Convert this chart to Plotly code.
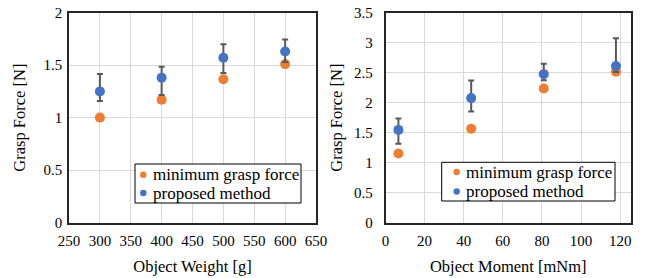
import plotly.graph_objects as go

# Series names
name_min = "minimum grasp force"
name_prop = "proposed method"

# Left chart data
weight = [300, 400, 500, 600]
min_force_w = [1.00, 1.17, 1.365, 1.51]
prop_force_w = [1.25, 1.38, 1.57, 1.63]
prop_err_plus_w = [0.165, 0.105, 0.13, 0.115]
prop_err_minus_w = [0.092, 0.165, 0.145, 0.10]

# Right chart data
moment = [6.6, 43.8, 80.9, 117.8]
min_force_m = [1.15, 1.565, 2.235, 2.515]
prop_force_m = [1.545, 2.075, 2.475, 2.61]
prop_err_plus_m = [0.19, 0.295, 0.175, 0.465]
prop_err_minus_m = [0.23, 0.225, 0.10, 0.10]

ORANGE = "#ED7D31"
BLUE = "#4472C4"
ERR = "#595959"
FONT = "Times New Roman, Liberation Serif, serif"
W, H = 654, 278

fig = go.Figure()

fig.add_trace(go.Scatter(x=weight, y=min_force_w, mode="markers", name=name_min,
                         marker=dict(color=ORANGE, size=10), xaxis="x", yaxis="y"))
fig.add_trace(go.Scatter(x=weight, y=prop_force_w, mode="markers", name=name_prop,
                         marker=dict(color=BLUE, size=10),
                         error_y=dict(type="data", symmetric=False, array=prop_err_plus_w,
                                      arrayminus=prop_err_minus_w, color=ERR, thickness=2, width=3),
                         xaxis="x", yaxis="y"))
fig.add_trace(go.Scatter(x=moment, y=min_force_m, mode="markers", name=name_min,
                         marker=dict(color=ORANGE, size=10), xaxis="x2", yaxis="y2"))
fig.add_trace(go.Scatter(x=moment, y=prop_force_m, mode="markers", name=name_prop,
                         marker=dict(color=BLUE, size=10),
                         error_y=dict(type="data", symmetric=False, array=prop_err_plus_m,
                                      arrayminus=prop_err_minus_m, color=ERR, thickness=2, width=3),
                         xaxis="x2", yaxis="y2"))

ydom = [1 - 222.5 / H, 1 - 12.7 / H]

axis_common = dict(showgrid=True, gridcolor="#d9d9d9", gridwidth=1, zeroline=False,
                   showline=True, linecolor="#262626", linewidth=1.5, mirror=True,
                   ticks="", automargin=False,
                   tickfont=dict(family=FONT, size=15, color="#000"),
                   title_font=dict(family=FONT, size=16.5, color="#000"))


def px_x(v):
    return v / W


def px_y(v):
    return 1 - v / H


# Legend boxes (drawn as shapes/annotations to match the compact Excel legend)
shapes = []
annotations = []
legend_specs = [
    # box left, top, right, bottom, dot x, text x, row y's
    dict(box=(135, 164, 301, 203), dot_x=143.3, text_x=151, rows=(174.8, 193)),
    dict(box=(441.7, 162.3, 615, 201), dot_x=456.7, text_x=464, rows=(172, 191.5)),
]
for spec in legend_specs:
    l, t, r, b = spec["box"]
    shapes.append(dict(type="rect", xref="paper", yref="paper",
                       x0=px_x(l), x1=px_x(r), y0=px_y(b), y1=px_y(t),
                       line=dict(color="#000", width=1), fillcolor="white", layer="above"))
    for row_y, color, label in zip(spec["rows"], [ORANGE, BLUE], [name_min, name_prop]):
        rr = 3.2
        shapes.append(dict(type="circle", xref="paper", yref="paper",
                           x0=px_x(spec["dot_x"] - rr), x1=px_x(spec["dot_x"] + rr),
                           y0=px_y(row_y + rr), y1=px_y(row_y - rr),
                           line=dict(width=0), fillcolor=color, layer="above"))
        annotations.append(dict(xref="paper", yref="paper", x=px_x(spec["text_x"]), y=px_y(row_y),
                                xanchor="left", yanchor="middle", showarrow=False, text=label,
                                font=dict(family=FONT, size=17, color="#000")))

fig.update_layout(
    width=W, height=H,
    margin=dict(l=0, r=0, t=0, b=0),
    paper_bgcolor="white", plot_bgcolor="white",
    font=dict(family=FONT, size=15, color="#000"),
    showlegend=False,
    xaxis=dict(domain=[69 / W, 316 / W], range=[250, 650], dtick=50, tick0=250,
               ticklabelstandoff=4,
               title=dict(text="Object Weight [g]", standoff=12), anchor="y", **axis_common),
    yaxis=dict(domain=ydom, range=[0, 2], dtick=0.5, anchor="x", ticklabelstandoff=2,
               title=dict(text="Grasp Force [N]", standoff=14), **axis_common),
    xaxis2=dict(domain=[385.5 / W, 631 / W], range=[0, 125.5], dtick=20, tick0=0,
                ticklabelstandoff=4,
                title=dict(text="Object Moment [mNm]", standoff=12), anchor="y2", **axis_common),
    yaxis2=dict(domain=ydom, range=[0, 3.5], dtick=0.5, anchor="x2", ticklabelstandoff=8,
                title=dict(text="Grasp Force [N]", standoff=7), **axis_common),
    shapes=shapes,
    annotations=annotations,
)

fig.write_html("out.html", config={"displayModeBar": False},
               post_script="document.body.style.margin='0';document.body.style.padding='0';")
